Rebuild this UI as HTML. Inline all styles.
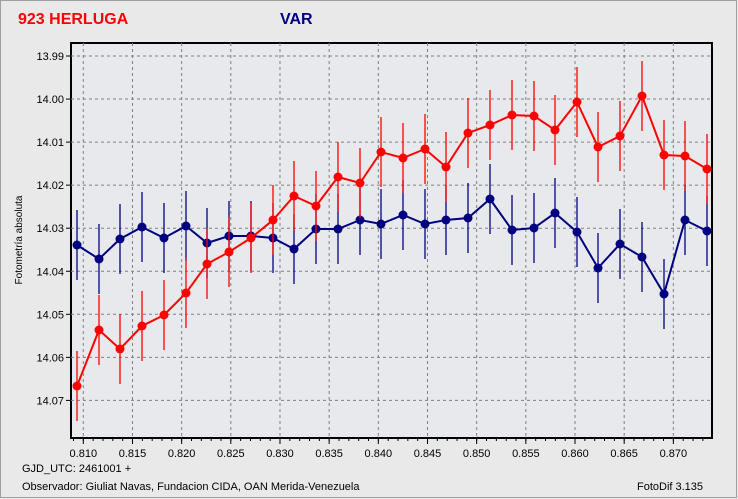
<!DOCTYPE html>
<html><head><meta charset="utf-8"><style>
body{margin:0;background:#fff}
svg{display:block;font-family:"Liberation Sans",sans-serif}
</style></head><body>
<svg id="s" width="738" height="499" xmlns="http://www.w3.org/2000/svg">
<rect x="0" y="0" width="738" height="499" fill="#e9e9ea"/>
<rect x="0.5" y="0.5" width="736" height="497" fill="none" stroke="#a0a0a0"/>
<rect x="71" y="43" width="641" height="395" fill="#e8e9ec" stroke="#000" stroke-width="2"/>
<text x="18" y="24" font-size="16" font-weight="bold" fill="#ff0000">923 HERLUGA</text>
<text x="280" y="24" font-size="16" font-weight="bold" fill="#000080">VAR</text>
<text transform="translate(22,240) rotate(-90)" font-size="10" text-anchor="middle" fill="#000">Fotometría absoluta</text>
<text x="22" y="472" font-size="11" fill="#000">GJD_UTC: 2461001 +</text>
<text x="22" y="490" font-size="11" fill="#000">Observador: Giuliat Navas, Fundacion CIDA, OAN  Merida-Venezuela</text>
<text x="637" y="490" font-size="11" fill="#000">FotoDif 3.135</text>
<g id="g"></g>
</svg>
<script>
var g=document.getElementById('g'),h='';
var yl=['13.99','14.00','14.01','14.02','14.03','14.04','14.05','14.06','14.07'];
for(var i=0;i<9;i++){var y=56+i*43.05;
h+='<line x1="71" x2="712" y1="'+y+'" y2="'+y+'" stroke="#808080" stroke-dasharray="3,3"/>';
h+='<line x1="66" x2="71" y1="'+y+'" y2="'+y+'" stroke="#000"/>';
h+='<text x="64" y="'+(y+4)+'" font-size="11" text-anchor="end">'+yl[i]+'</text>';}
for(var i=0;i<13;i++){var x=83.3+i*49.17;
h+='<line y1="43" y2="438" x1="'+x+'" x2="'+x+'" stroke="#808080" stroke-dasharray="3,3"/>';
h+='<line y1="438" y2="444" x1="'+x+'" x2="'+x+'" stroke="#000"/>';
h+='<text x="'+x+'" y="457" font-size="11" text-anchor="middle">'+(0.810+i*0.005).toFixed(3)+'</text>';}
for(var x=73.5;x<712;x+=9.834){h+='<line y1="438" y2="441" x1="'+x+'" x2="'+x+'" stroke="#000"/>';}
var R=[[77,386],[99,330],[120,349],[142,326],[164,315],[186,293],[207,264],[229,252],[251,238],[273,220],[294,196],[316,206],[338,177],[360,183],[381,152],[403,158],[425,149],[446,167],[468,133],[490,125],[512,115],[534,116],[555,130],[577,102],[598,147],[620,136],[642,96],[664,155],[685,156],[707,169]];
var B=[[77,245],[99,259],[120,239],[142,227],[164,238],[186,226],[207,243],[229,236],[251,236],[273,238],[294,249],[316,229],[338,229],[360,220],[381,224],[403,215],[425,224],[446,220],[468,218],[490,199],[512,230],[534,228],[555,213],[577,232],[598,268],[620,244],[642,257],[664,294],[685,220],[707,231]];
function ser(P,c){var s='';P.forEach(function(p){s+='<line x1="'+p[0]+'" x2="'+p[0]+'" y1="'+(p[1]-35)+'" y2="'+(p[1]+35)+'" stroke="'+c+'" stroke-width="1.3"/>';});
s+='<polyline fill="none" stroke="'+c+'" stroke-width="2" points="'+P.map(function(p){return p.join(',')}).join(' ')+'"/>';
P.forEach(function(p){s+='<circle cx="'+p[0]+'" cy="'+p[1]+'" r="4.5" fill="'+c+'"/>';});return s;}
h+=ser(B,'#000080')+ser(R,'#ff0000');
g.innerHTML=h;
</script>
</body></html>
